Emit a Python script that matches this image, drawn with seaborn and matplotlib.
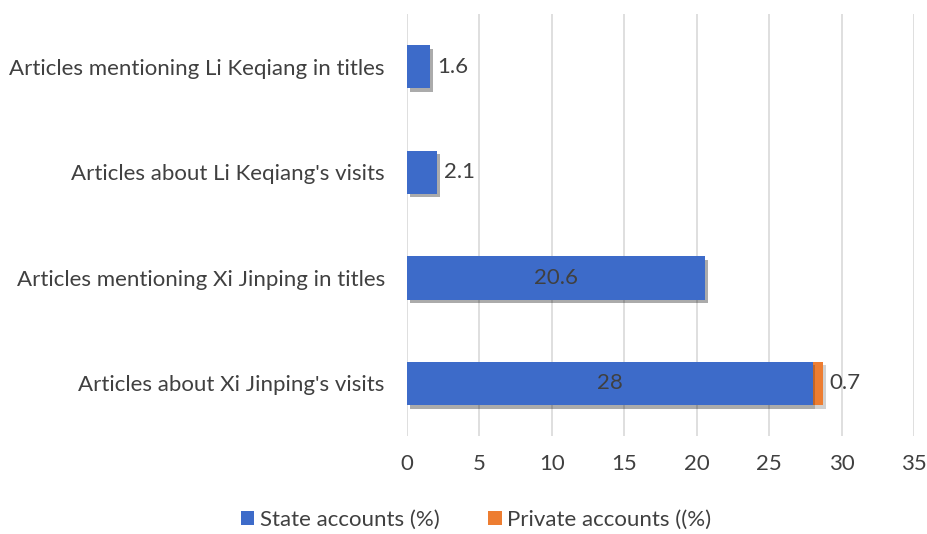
import matplotlib
matplotlib.use("Agg")
import matplotlib.pyplot as plt
import matplotlib.patheffects as pe
from matplotlib.patches import Patch
import seaborn as sns
import pandas as pd

categories = ["Articles mentioning Li Keqiang in titles",
              "Articles about Li Keqiang's visits",
              "Articles mentioning Xi Jinping in titles",
              "Articles about Xi Jinping's visits"]
state = [1.6, 2.1, 20.6, 28]
private = [0, 0, 0, 0.7]
series_names = ["State accounts (%)", "Private accounts ((%)"]
xticks = [0, 5, 10, 15, 20, 25, 30, 35]

sns.set_theme(style="white")
plt.rcParams['font.family'] = ['Lato', 'DejaVu Sans']

df = pd.DataFrame({"cat": categories, "state": state, "private": private})
df["total"] = df["state"] + df["private"]

BLUE = "#3D6BC9"
ORANGE = "#ED7D31"
TXT = "#404040"
FS = 16

fig = plt.figure(figsize=(9.28, 5.34), dpi=100)
ax = fig.add_axes([0.4386, 0.183, 0.5464, 0.791])

shadow = [pe.SimplePatchShadow(offset=(2, -2.5), shadow_rgbFace="black", alpha=0.18), pe.Normal()]

sns.barplot(data=df, y="cat", x="total", color=ORANGE, saturation=1, width=0.41,
            ax=ax, orient="h", zorder=3)
sns.barplot(data=df, y="cat", x="state", color=BLUE, saturation=1, width=0.41,
            ax=ax, orient="h", zorder=4)
for p in ax.patches:
    p.set_linewidth(0)
    p.set_path_effects(shadow)

for i in range(len(categories)):
    s = state[i]
    if s > 10:
        ax.text(s / 2, i, f"{s:g}", ha="center", va="center", color=TXT, fontsize=FS, zorder=6)
    else:
        ax.text(s + 0.45, i, f"{s:g}", ha="left", va="center", color=TXT, fontsize=FS, zorder=6)
    if private[i] > 0:
        ax.text(state[i] + private[i] + 0.45, i, f"{private[i]:g}", ha="left", va="center",
                color=TXT, fontsize=FS, zorder=6)

ax.set_xlim(0, 35)
ax.set_xticks(xticks)
ax.set_xticklabels([str(t) for t in xticks], fontsize=FS, color=TXT)
ax.tick_params(axis="x", length=0, pad=13)
ax.tick_params(axis="y", length=0, pad=16, labelsize=FS, labelcolor=TXT)
ax.xaxis.grid(True, color="#D9D9D9", linewidth=1.2, zorder=0)
ax.set_axisbelow(True)
ax.set_xlabel("")
ax.set_ylabel("")
for s in ax.spines.values():
    s.set_visible(False)

handles = [Patch(facecolor=BLUE, edgecolor="none"), Patch(facecolor=ORANGE, edgecolor="none")]
fig.legend(handles, series_names, loc="center", bbox_to_anchor=(0.513, 0.026), ncol=2,
           frameon=False, fontsize=FS, labelcolor=TXT, handlelength=0.6, handleheight=0.6,
           handletextpad=0.25, columnspacing=2.2)

fig.savefig("out.png", dpi=100)
